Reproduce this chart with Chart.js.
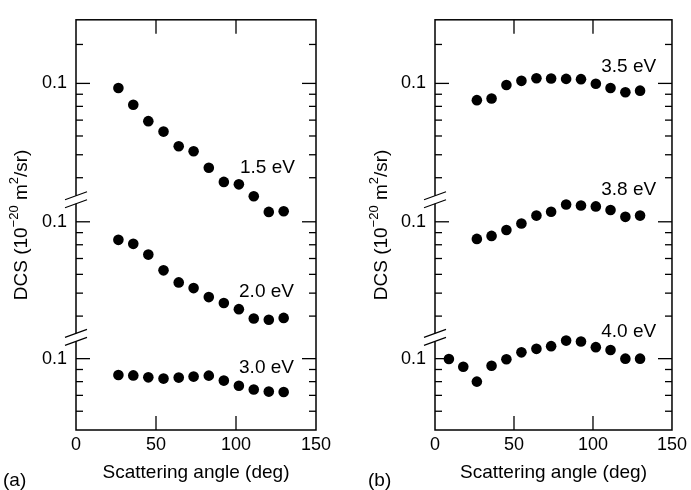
<!DOCTYPE html>
<html>
<head>
<meta charset="utf-8">
<script src="https://cdn.jsdelivr.net/npm/chart.js@4.4.1/dist/chart.umd.min.js"></script>
<style>
  body { margin: 0; background: #fff; }
  #wrap { position: relative; width: 691px; height: 490px; }
  .panel { position: absolute; top: 0; height: 490px; }
  #panelA { left: 0; width: 345px; }
  #panelB { left: 345px; width: 346px; }
</style>
</head>
<body>
<div id="wrap">
  <div class="panel" id="panelA"><canvas id="chartA"></canvas></div>
  <div class="panel" id="panelB"><canvas id="chartB"></canvas></div>
</div>
<script>
/* ----- data ----- */
const angles = [26.5, 35.8, 45.2, 54.7, 64.2, 73.5, 83, 92.4, 101.8, 111.1, 120.5, 129.8];
const angles40 = [8.8, 17.9, 26.5, 35.8, 45.2, 54.7, 64.2, 73.5, 83, 92.4, 101.8, 111.1, 120.5, 129.8];

const dcs15 = [0.0956, 0.0813, 0.0693, 0.0626, 0.0543, 0.0517, 0.0441, 0.0384, 0.0375, 0.0334, 0.0287, 0.0289];
const dcs20 = [0.0839, 0.0807, 0.0727, 0.0624, 0.0555, 0.0525, 0.0481, 0.0454, 0.0428, 0.0391, 0.0386, 0.0393];
const dcs30 = [0.0853, 0.085, 0.0834, 0.0824, 0.0832, 0.084, 0.0848, 0.0808, 0.0768, 0.0741, 0.0726, 0.0723];
const dcs35 = [0.085, 0.0863, 0.0984, 0.1025, 0.1052, 0.1049, 0.1045, 0.1042, 0.0996, 0.0956, 0.0918, 0.0932];
const dcs38 = [0.0847, 0.0872, 0.0923, 0.0984, 0.1062, 0.1103, 0.1183, 0.1172, 0.1161, 0.1121, 0.1049, 0.1062];
const dcs40 = [0.0997, 0.0924, 0.08, 0.0933, 0.0994, 0.1063, 0.11, 0.1129, 0.1192, 0.1181, 0.1118, 0.1087, 0.1, 0.1];

const energiesA = ["1.5 eV", "2.0 eV", "3.0 eV"];
const energiesB = ["3.5 eV", "3.8 eV", "4.0 eV"];

const xTicks = [0, 50, 100, 150];
const yMajor = 0.1;
const yTickLabel = "0.1";
// minor ticks of each stacked section (top, middle, bottom)
const yMinor = [
  [0.146, 0.09, 0.08, 0.07, 0.06, 0.05, 0.04],
  [0.09, 0.08, 0.07, 0.06, 0.05, 0.04],
  [0.09, 0.08, 0.07, 0.06],
];

/* ----- layout ----- */
// each section is shifted up on one log axis by these factors
const sectionScale = [14.5, 3.78, 1];
const yMin = 0.05;
const yMax = 2.69;
const FONT = "'Liberation Sans', Arial, sans-serif";
Chart.defaults.font.family = FONT;
Chart.defaults.color = "#000";

/* ----- drawing helpers ----- */
function seg(ctx, x1, y1, x2, y2) {
  ctx.beginPath();
  ctx.moveTo(x1, y1);
  ctx.lineTo(x2, y2);
  ctx.stroke();
}

function drawYTitle(ctx, cx, cy) {
  const parts = [
    ["DCS (10", false],
    ["\u221220", true],
    [" m", false],
    ["2", true],
    ["/sr)", false],
  ];
  const big = "19px " + FONT;
  const small = "13px " + FONT;
  let w = 0;
  parts.forEach(([t, sup]) => {
    ctx.font = sup ? small : big;
    w += ctx.measureText(t).width;
  });
  ctx.save();
  ctx.translate(cx, cy);
  ctx.rotate(-Math.PI / 2);
  ctx.fillStyle = "#000";
  ctx.textBaseline = "alphabetic";
  ctx.textAlign = "left";
  let x = -w / 2;
  parts.forEach(([t, sup]) => {
    ctx.font = sup ? small : big;
    ctx.fillText(t, x, sup ? -2 : 6.8);
    x += ctx.measureText(t).width;
  });
  ctx.restore();
}

const framePlugin = {
  id: "frame",
  afterDraw(chart) {
    const { ctx, chartArea: a, scales } = chart;
    const x = scales.x;
    const y = scales.y;
    const p = chart.options.plugins.frame;
    ctx.save();
    ctx.strokeStyle = "#000";
    ctx.lineWidth = 1.5;
    ctx.strokeRect(a.left, a.top, a.right - a.left, a.bottom - a.top);

    // y ticks, both sides
    ctx.lineWidth = 1.3;
    sectionScale.forEach((f, i) => {
      const py = y.getPixelForValue(yMajor * f);
      seg(ctx, a.left, py, a.left + 14, py);
      seg(ctx, a.right, py, a.right - 14, py);
      yMinor[i].forEach((v) => {
        const pm = y.getPixelForValue(v * f);
        seg(ctx, a.left, pm, a.left + 7, pm);
        seg(ctx, a.right, pm, a.right - 7, pm);
      });
    });

    // x ticks, top and bottom
    xTicks.slice(1, -1).forEach((v) => {
      const px = x.getPixelForValue(v);
      seg(ctx, px, a.bottom, px, a.bottom - 14);
      seg(ctx, px, a.top, px, a.top + 14);
    });

    // axis breaks on the left
    for (let i = 0; i < 2; i++) {
      const low = yMinor[i][yMinor[i].length - 1] * sectionScale[i];
      const yb = (y.getPixelForValue(low) + y.getPixelForValue(yMajor * sectionScale[i + 1])) / 2;
      ctx.fillStyle = "#fff";
      ctx.fillRect(a.left - 2, yb - 4, 4, 8);
      ctx.lineWidth = 1.2;
      [-4, 4].forEach((d) => seg(ctx, a.left - 11, yb + d + 4, a.left + 11, yb + d - 4));
    }

    // energy labels
    ctx.fillStyle = "#000";
    ctx.font = "19px " + FONT;
    ctx.textAlign = "left";
    ctx.textBaseline = "middle";
    p.labels.forEach((l, i) => {
      ctx.fillText(p.names[i], x.getPixelForValue(l[0]), y.getPixelForValue(l[1] * sectionScale[i]));
    });

    // panel letter
    ctx.fillText(p.letter, p.letterX, 481);

    drawYTitle(ctx, p.titleX, (a.top + a.bottom) / 2);
    ctx.restore();
  },
};

function makePanel(id, cfg) {
  const datasets = cfg.series.map((s, k) => ({
    data: s.x.map((a, i) => ({ x: a, y: s.y[i] * sectionScale[k] })),
    backgroundColor: "#000",
    borderWidth: 0,
    pointRadius: 5.3,
  }));

  return new Chart(id, {
    type: "scatter",
    data: { datasets },
    options: {
      responsive: true,
      maintainAspectRatio: false,
      animation: false,
      layout: { padding: { left: 0, top: 13, right: cfg.padRight, bottom: 0 } },
      plugins: {
        legend: { display: false },
        tooltip: { enabled: false },
        frame: cfg.frame,
      },
      scales: {
        x: {
          type: "linear",
          min: 0,
          max: 150,
          afterBuildTicks: (s) => {
            s.ticks = xTicks.map((v) => ({ value: v }));
          },
          afterFit: (s) => {
            s.height = 60;
          },
          ticks: { padding: 4, maxRotation: 0, autoSkip: false, font: { size: 18 } },
          grid: { display: false, drawTicks: false },
          border: { display: false },
          title: {
            display: true,
            text: "Scattering angle (deg)",
            font: { size: 19 },
            padding: { top: 0, bottom: 6 },
          },
        },
        y: {
          type: "logarithmic",
          min: yMin,
          max: yMax,
          afterBuildTicks: (s) => {
            s.ticks = sectionScale.map((f) => ({ value: yMajor * f }));
          },
          afterFit: (s) => {
            s.width = cfg.axisWidth;
          },
          ticks: { padding: 9, autoSkip: false, font: { size: 18 }, callback: () => yTickLabel },
          grid: { display: false, drawTicks: false },
          border: { display: false },
        },
      },
    },
    plugins: [framePlugin],
  });
}

/* ----- charts ----- */
makePanel("chartA", {
  axisWidth: 76,
  padRight: 29,
  series: [
    { x: angles, y: dcs15 },
    { x: angles, y: dcs20 },
    { x: angles, y: dcs30 },
  ],
  frame: {
    names: energiesA,
    labels: [[102.5, 0.0441], [101.9, 0.0509], [101.9, 0.0911]],
    letter: "(a)",
    letterX: 3,
    titleX: 20,
  },
});

makePanel("chartB", {
  axisWidth: 90,
  padRight: 16,
  series: [
    { x: angles, y: dcs35 },
    { x: angles, y: dcs38 },
    { x: angles40, y: dcs40 },
  ],
  frame: {
    names: energiesB,
    labels: [[105.2, 0.1171], [105.2, 0.1364], [105.2, 0.1303]],
    letter: "(b)",
    letterX: 23,
    titleX: 35,
  },
});
</script>
</body>
</html>
